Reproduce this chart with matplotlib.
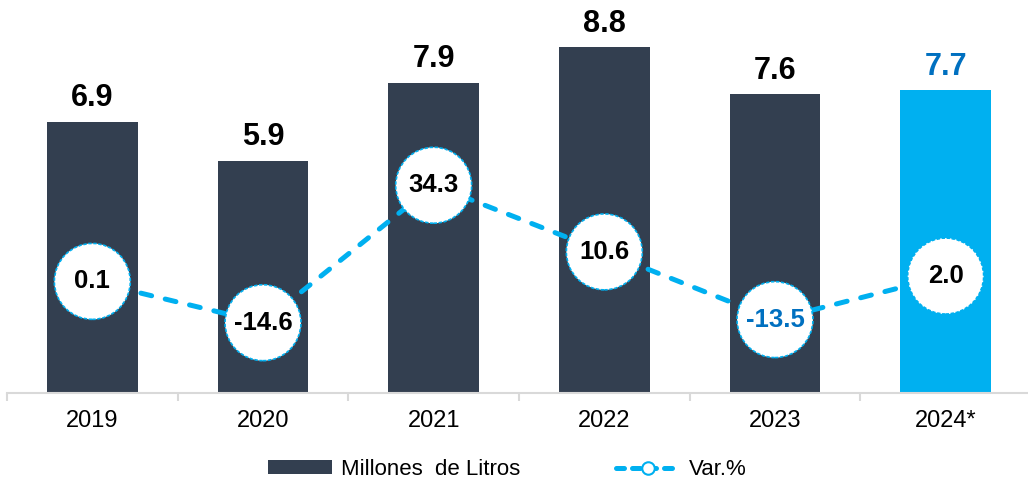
import matplotlib
matplotlib.use("Agg")
import matplotlib.pyplot as plt
from matplotlib.patches import Patch
from matplotlib.lines import Line2D

plt.rcParams['font.family'] = ['Liberation Sans', 'DejaVu Sans']

years = ["2019", "2020", "2021", "2022", "2023", "2024*"]
volumes = [6.9, 5.9, 7.9, 8.8, 7.6, 7.7]
var_pct = [0.1, -14.6, 34.3, 10.6, -13.5, 2.0]

dark = "#333F50"
cyan = "#00B0F0"
blue = "#0070C0"

fig = plt.figure(figsize=(10.28, 4.84), dpi=100)
ax = fig.add_axes([7/1028, 91/484, 1024/1028, 393/484])
x = list(range(len(years)))
bar_colors = [dark]*5 + [cyan]
ax.bar(x, volumes, width=0.53, color=bar_colors, zorder=2)
ax.set_xlim(-0.5, 5.5)
ax.set_ylim(0, 10)
for xi, v in zip(x, volumes):
    col = blue if xi == 5 else "black"
    ax.text(xi, v + 0.22, f"{v:.1f}", ha="center", va="bottom",
            fontsize=22, fontweight="bold", color=col)

for s in ["top", "right", "left"]:
    ax.spines[s].set_visible(False)
ax.spines["bottom"].set_color("#D9D9D9")
ax.spines["bottom"].set_linewidth(1.5)
ax.set_yticks([])
ax.set_xticks([i - 0.5 for i in range(len(years) + 1)], minor=False)
ax.set_xticklabels([])
ax.tick_params(axis="x", which="major", length=6, width=1.5, color="#D9D9D9")
ax.set_xticks(x, minor=True)
ax.set_xticklabels(years, minor=True, fontsize=17)
ax.tick_params(axis="x", which="minor", length=0, pad=12)

ax2 = ax.twinx()
ax2.set_ylim(-39.6, 100.2)
ax2.axis("off")
ax2.plot(x, var_pct, color=cyan, lw=3.6, linestyle=(0, (2.2, 2.8)),
         dash_capstyle="round", zorder=3)
ax2.scatter(x, var_pct, s=2990, facecolors="white", edgecolors=cyan,
            linewidths=1.2, linestyles=(0, (2, 1)), zorder=4)
for xi, v in zip(x, var_pct):
    col = blue if xi == 4 else "black"
    ax2.text(xi, v, f"{v:.1f}", ha="center", va="center",
             fontsize=18.5, fontweight="bold", color=col, zorder=5)

handles = [
    Patch(facecolor=dark, edgecolor="none"),
    Line2D([], [], color=cyan, lw=3.6, linestyle=(0, (1.6, 1.6)),
           dash_capstyle="round", marker="o", markersize=9,
           markerfacecolor="white", markeredgecolor=cyan, markeredgewidth=1.5),
]
fig.legend(handles, ["Millones  de Litros", "Var.%"], loc="center",
           bbox_to_anchor=(0.4935, 0.03), ncol=2, frameon=False, fontsize=16,
           handlelength=2.9, handleheight=0.6, columnspacing=4.3,
           handletextpad=0.4)

fig.savefig("out.png", dpi=100)
